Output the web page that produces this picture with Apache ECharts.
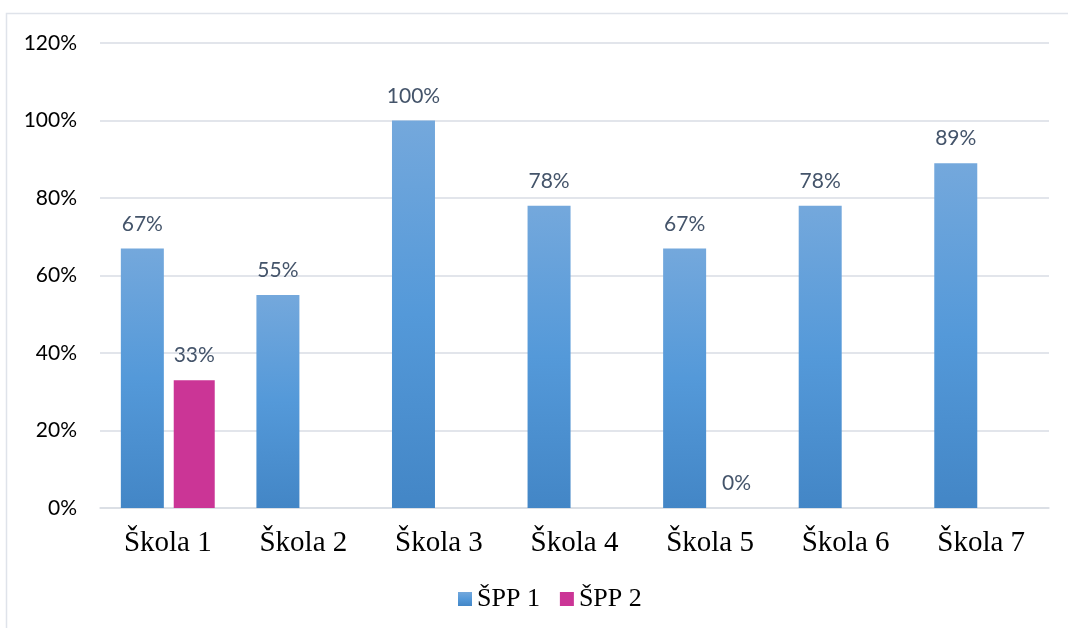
<!DOCTYPE html>
<html>
<head>
<meta charset="utf-8">
<script src="https://cdn.jsdelivr.net/npm/echarts@6/dist/echarts.min.js"></script>
<style>
  html, body { margin: 0; padding: 0; background: #fff; }
  #chart { width: 1068px; height: 628px; }
</style>
</head>
<body>
<div id="chart"></div>
<script>
// data
const categories = ['Škola 1', 'Škola 2', 'Škola 3', 'Škola 4', 'Škola 5', 'Škola 6', 'Škola 7'];
const seriesNames = ['ŠPP 1', 'ŠPP 2'];
const spp1 = [67, 55, 100, 78, 67, 78, 89];
const spp2 = [33, null, null, null, 0, null, null];

const labelStyle = {
  show: true,
  position: 'top',
  distance: 14,
  color: '#44546a',
  fontFamily: 'Lato',
  fontSize: 21,
  formatter: p => p.value + '%'
};

const chart = echarts.init(document.getElementById('chart'));
chart.setOption({
  animation: false,
  graphic: [{
    type: 'rect',
    shape: { x: 6.5, y: 13.5, width: 1100, height: 700 },
    style: { fill: 'none', stroke: '#dfe3ea', lineWidth: 1.5 },
    silent: true
  }],
  grid: { left: 100, right: 19, top: 43, bottom: 120 },
  legend: {
    bottom: 11,
    left: 453,
    itemWidth: 14,
    itemHeight: 14,
    itemGap: 20,
    icon: 'rect',
    textStyle: { fontFamily: 'Liberation Serif', fontSize: 26, color: '#000' },
    data: seriesNames
  },
  xAxis: {
    type: 'category',
    data: categories,
    axisLine: { lineStyle: { color: '#d9dde4', width: 1.5 } },
    axisTick: { show: false },
    axisLabel: { fontFamily: 'Liberation Serif', fontSize: 29, color: '#000', margin: 21 }
  },
  yAxis: {
    type: 'value',
    min: 0,
    max: 120,
    interval: 20,
    axisLine: { show: false },
    axisTick: { show: false },
    splitLine: { lineStyle: { color: '#d9dde4', width: 1.5 } },
    axisLabel: { fontFamily: 'Lato', fontSize: 21, color: '#000', margin: 23, formatter: '{value}%' }
  },
  series: [
    {
      name: seriesNames[0],
      type: 'bar',
      data: spp1,
      barWidth: 43,
      barGap: '23%',
      barCategoryGap: '29%',
      itemStyle: {
        color: new echarts.graphic.LinearGradient(0, 0, 0, 1, [
          { offset: 0, color: '#74a8dc' },
          { offset: 0.5, color: '#5499d9' },
          { offset: 1, color: '#4386c6' }
        ])
      },
      label: labelStyle
    },
    {
      name: seriesNames[1],
      type: 'bar',
      data: spp2,
      barWidth: 41,
      itemStyle: { color: '#cb3596' },
      label: labelStyle
    }
  ]
});
</script>
</body>
</html>
